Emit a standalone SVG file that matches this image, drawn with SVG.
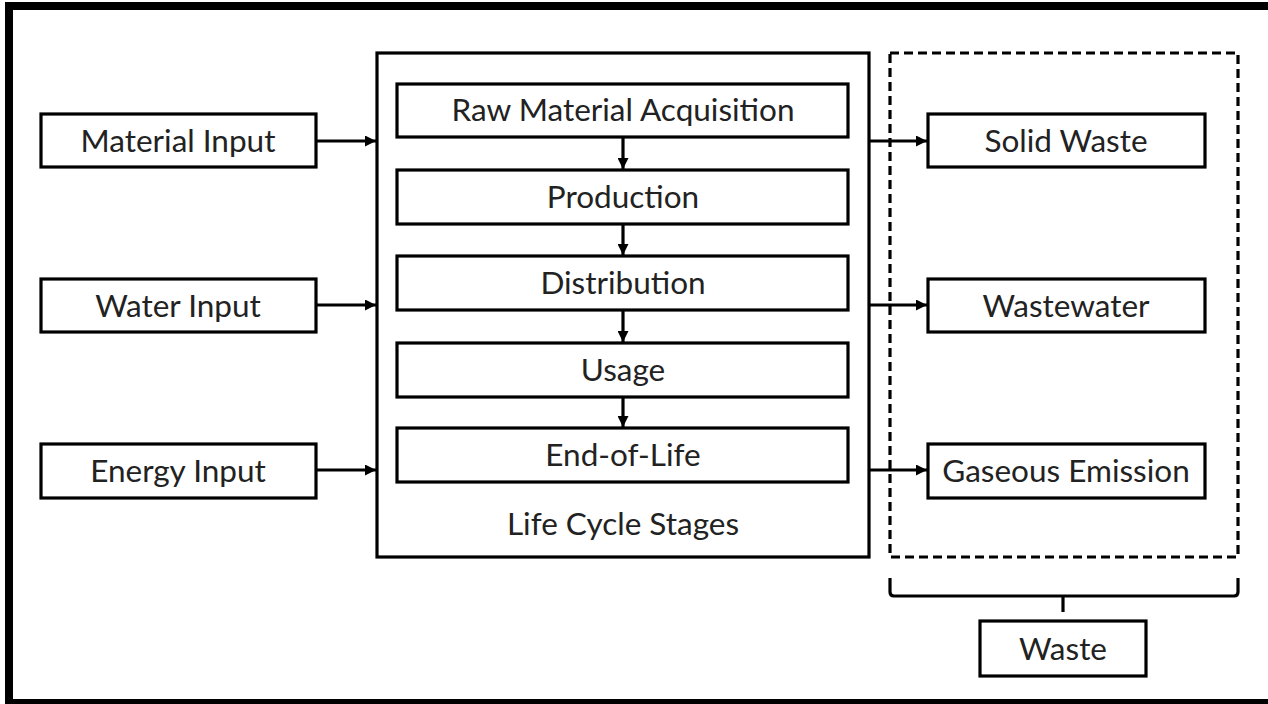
<svg xmlns="http://www.w3.org/2000/svg" width="1268" height="704" viewBox="0 0 1268 704">
  <style>
    .box { fill: #fff; stroke: #000; stroke-width: 3.2; }
    .frame { fill: none; stroke: #000; stroke-width: 3.2; }
    .dash { fill: none; stroke: #000; stroke-width: 3.2; stroke-dasharray: 9 5; }
    .lbl { font-family: Lato, "Open Sans", sans-serif; font-size: 31.5px; fill: #222; text-anchor: middle; }
    .wire { fill: none; stroke: #000; stroke-width: 3.2; }
  </style>
  <defs>
    <marker id="arrow" viewBox="0 0 10 10" refX="10" refY="5" markerWidth="11" markerHeight="11" markerUnits="userSpaceOnUse" orient="auto">
      <path d="M0,0 L10,5 L0,10 Z" fill="#000"/>
    </marker>
  </defs>

  <rect width="1268" height="704" fill="#fff"/>
  <!-- outer frame -->
  <rect x="9" y="6" width="1270" height="697" fill="none" stroke="#000" stroke-width="8"/>

  <!-- input nodes -->
  <g id="material-input">
    <rect class="box" x="41" y="114" width="275" height="53"/>
    <text class="lbl" x="178" y="152">Material Input</text>
  </g>
  <g id="water-input">
    <rect class="box" x="41" y="279" width="275" height="53"/>
    <text class="lbl" x="178" y="317">Water Input</text>
  </g>
  <g id="energy-input">
    <rect class="box" x="41" y="444" width="275" height="54"/>
    <text class="lbl" x="178" y="482">Energy Input</text>
  </g>

  <!-- life cycle container -->
  <g id="life-cycle-stages">
    <rect class="frame" x="377" y="53" width="492" height="504"/>
    <text class="lbl" x="623" y="535">Life Cycle Stages</text>
  </g>
  <g id="raw-material-acquisition">
    <rect class="box" x="397" y="84" width="451" height="53"/>
    <text class="lbl" x="623" y="121">Raw Material Acquisition</text>
  </g>
  <g id="production">
    <rect class="box" x="397" y="170" width="451" height="54"/>
    <text class="lbl" x="623" y="208">Production</text>
  </g>
  <g id="distribution">
    <rect class="box" x="397" y="256" width="451" height="54"/>
    <text class="lbl" x="623" y="294">Distribution</text>
  </g>
  <g id="usage">
    <rect class="box" x="397" y="343" width="451" height="54"/>
    <text class="lbl" x="623" y="381">Usage</text>
  </g>
  <g id="end-of-life">
    <rect class="box" x="397" y="428" width="451" height="54"/>
    <text class="lbl" x="623" y="466">End-of-Life</text>
  </g>

  <!-- waste group -->
  <g id="waste-group">
    <rect class="dash" x="890" y="53" width="348" height="504"/>
  </g>
  <g id="solid-waste">
    <rect class="box" x="928" y="114" width="277" height="53"/>
    <text class="lbl" x="1066" y="152">Solid Waste</text>
  </g>
  <g id="wastewater">
    <rect class="box" x="928" y="279" width="277" height="53"/>
    <text class="lbl" x="1066" y="317">Wastewater</text>
  </g>
  <g id="gaseous-emission">
    <rect class="box" x="928" y="444" width="277" height="54"/>
    <text class="lbl" x="1066" y="482">Gaseous Emission</text>
  </g>
  <g id="waste">
    <rect class="box" x="980" y="621" width="166" height="55"/>
    <text class="lbl" x="1063" y="660">Waste</text>
  </g>

  <!-- connectors -->
  <g id="connectors">
    <line class="wire" x1="316" y1="141" x2="376" y2="141" marker-end="url(#arrow)"/>
    <line class="wire" x1="316" y1="305" x2="376" y2="305" marker-end="url(#arrow)"/>
    <line class="wire" x1="316" y1="470" x2="376" y2="470" marker-end="url(#arrow)"/>

    <line class="wire" x1="623" y1="137" x2="623" y2="169" marker-end="url(#arrow)"/>
    <line class="wire" x1="623" y1="224" x2="623" y2="255" marker-end="url(#arrow)"/>
    <line class="wire" x1="623" y1="310" x2="623" y2="342" marker-end="url(#arrow)"/>
    <line class="wire" x1="623" y1="397" x2="623" y2="427" marker-end="url(#arrow)"/>

    <line class="wire" x1="869" y1="141" x2="927" y2="141" marker-end="url(#arrow)"/>
    <line class="wire" x1="869" y1="305" x2="927" y2="305" marker-end="url(#arrow)"/>
    <line class="wire" x1="869" y1="470" x2="927" y2="470" marker-end="url(#arrow)"/>

    <!-- brace under waste group -->
    <path class="wire" d="M890,578 L890,592 Q890,596 894,596 L1234,596 Q1238,596 1238,592 L1238,578"/>
    <line class="wire" x1="1063" y1="596" x2="1063" y2="612"/>
  </g>
</svg>
